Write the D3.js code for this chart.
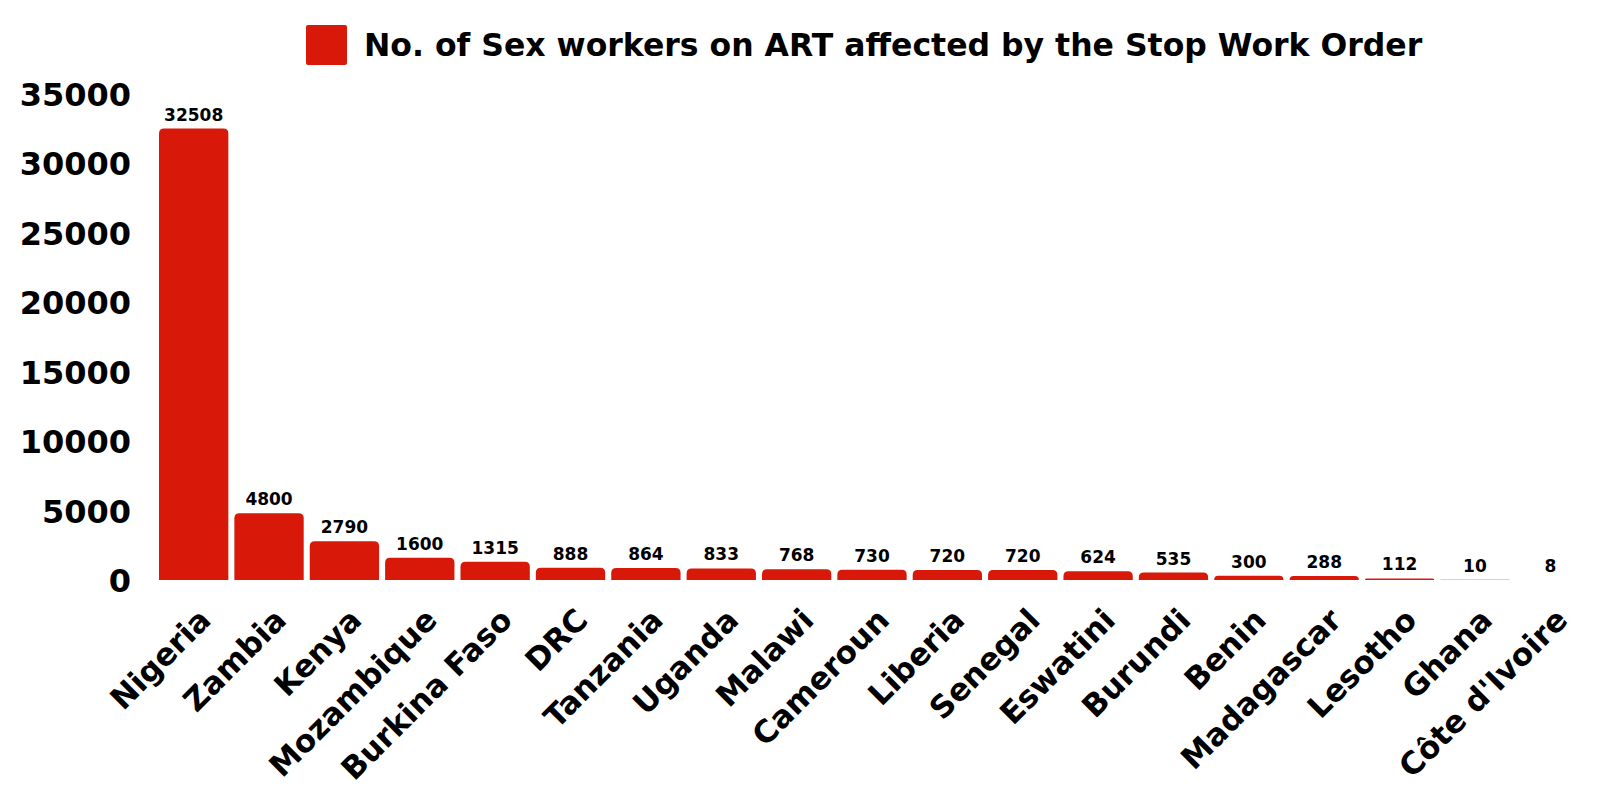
<!DOCTYPE html>
<html>
<head>
<meta charset="utf-8">
<script src="https://cdn.jsdelivr.net/npm/d3@7"></script>
<style>
  body { margin: 0; background: #fff; }
  svg { display: block; }
  text { font-family: "DejaVu Sans", sans-serif; font-weight: bold; fill: #000; }
</style>
</head>
<body>
<svg id="chart"></svg>
<script>
const countries = ["Nigeria", "Zambia", "Kenya", "Mozambique", "Burkina Faso", "DRC", "Tanzania", "Uganda", "Malawi", "Cameroun", "Liberia", "Senegal", "Eswatini", "Burundi", "Benin", "Madagascar", "Lesotho", "Ghana", "Côte d'Ivoire"];
const workers = [32508, 4800, 2790, 1600, 1315, 888, 864, 833, 768, 730, 720, 720, 624, 535, 300, 288, 112, 10, 8];
const yTicks = [0, 5000, 10000, 15000, 20000, 25000, 30000, 35000];
const seriesName = "No. of Sex workers on ART affected by the Stop Work Order";

const width = 1598
const height = 792
const red = "#d8190a"

const svg = d3.select("#chart").attr("width", width).attr("height", height)

const x = d3.scaleBand()
  .domain(countries)
  .range([159, 1585])
  .paddingInner(0.08)
  .paddingOuter(0)

const y = d3.scaleLinear()
  .domain([0, 35000])
  .range([580, 94])

// y axis labels only, no line
const yAxis = svg.append("g")
  .attr("transform", "translate(131,0)")
  .call(d3.axisLeft(y).tickValues(yTicks).tickSize(0).tickPadding(0).tickFormat(d3.format("d")))
yAxis.select(".domain").remove()
yAxis.selectAll("text")
  .style("font-size", "32px")
  .attr("dy", "0.36em")

// bars with rounded tops
const r = 5
const barPath = (d, i) => {
  const x0 = x(countries[i]), w = x.bandwidth()
  const y0 = y(0), y1 = y(d)
  const rr = Math.min(r, y0 - y1)
  return `M${x0},${y0}V${y1 + rr}Q${x0},${y1} ${x0 + rr},${y1}H${x0 + w - rr}Q${x0 + w},${y1} ${x0 + w},${y1 + rr}V${y0}Z`
}

svg.append("g")
  .selectAll("path")
  .data(workers)
  .enter()
  .append("path")
  .attr("d", barPath)
  .attr("fill", red)

// value labels
svg.append("g")
  .selectAll("text")
  .data(workers)
  .enter()
  .append("text")
  .attr("x", (d, i) => x(countries[i]) + x.bandwidth() / 2)
  .attr("y", d => y(d) - 8)
  .attr("text-anchor", "middle")
  .style("font-size", "17px")
  .text(d => d)

// x axis labels, rotated
const xAxis = svg.append("g")
  .attr("transform", "translate(0,580)")
  .call(d3.axisBottom(x).tickSize(0).tickPadding(0))
xAxis.select(".domain").remove()
xAxis.selectAll("text")
  .attr("text-anchor", "end")
  .attr("dy", 0)
  .attr("y", 0)
  .attr("transform", "translate(19,42) rotate(-45)")
  .style("font-size", "31px")

// legend
const legend = svg.append("g").attr("transform", "translate(306,25)")
legend.append("rect")
  .attr("width", 41)
  .attr("height", 40)
  .attr("rx", 2)
  .attr("fill", red)
legend.append("text")
  .attr("x", 58)
  .attr("y", 20)
  .attr("dy", "0.36em")
  .style("font-size", "31.5px")
  .text(seriesName)
</script>
</body>
</html>
